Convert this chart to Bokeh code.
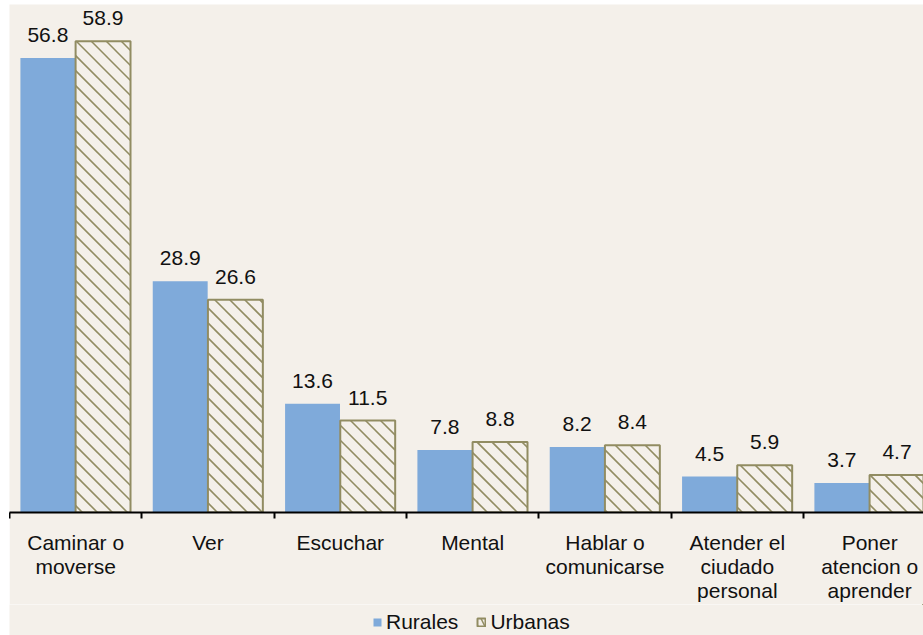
from bokeh.plotting import figure
from bokeh.layouts import column
from bokeh.models import ColumnDataSource, FixedTicker, Legend, LegendItem, Range1d
from bokeh.core.properties import value
from bokeh.embed import file_html
from bokeh.resources import INLINE
import numpy as np

# ---- data ----
categories = ["Caminar o\nmoverse", "Ver", "Escuchar", "Mental", "Hablar o\ncomunicarse",
              "Atender el\nciudado\npersonal", "Poner\natencion o\naprender"]
rurales = [56.8, 28.9, 13.6, 7.8, 8.2, 4.5, 3.7]
urbanas = [58.9, 26.6, 11.5, 8.8, 8.4, 5.9, 4.7]
series_names = ["Rurales", "Urbanas"]

BG = "#F4F0EA"
BLUE = "#7FAADA"
OLIVE = "#918C62"
FONT = "Liberation Sans"

# frame geometry (pixels) and ranges
FW, FH = 914, 508
XMAX, YMAX = 914 / 132.33, 63.5
bw = 0.415

n = len(categories)
idx = np.arange(n)
src = ColumnDataSource(dict(
    xr=idx + 0.29, xu=idx + 0.707,
    r=rurales, u=urbanas,
    rt=[f"{v:.1f}" for v in rurales], ut=[f"{v:.1f}" for v in urbanas],
))

# 45-degree "\" hatch lines clipped to each Urbanas bar, derived from the data
sxp, syp = FW / XMAX, FH / YMAX
SP = 15.0
hx0, hy0, hx1, hy1 = [], [], [], []
for xc, top in zip(idx + 0.707, urbanas):
    ux0, ux1 = (xc - bw / 2) * sxp, (xc + bw / 2) * sxp
    v0, v1 = (YMAX - top) * syp, YMAX * syp
    kmin = int(np.floor((v0 - ux1) / SP))
    kmax = int(np.ceil((v1 - ux0) / SP))
    for k in range(kmin, kmax + 1):
        c = k * SP
        us = max(ux0, v0 - c)
        ue = min(ux1, v1 - c)
        if ue - us > 0.5:
            hx0.append(us / sxp); hy0.append(YMAX - (us + c) / syp)
            hx1.append(ue / sxp); hy1.append(YMAX - (ue + c) / syp)
hsrc = ColumnDataSource(dict(x0=hx0, y0=hy0, x1=hx1, y1=hy1))

p = figure(width=914, height=600, output_backend="svg", toolbar_location=None,
           x_range=Range1d(0, XMAX), y_range=Range1d(0, YMAX),
           y_axis_location=None, min_border_left=0, min_border_right=0,
           min_border_top=0, min_border_bottom=92)
p.margin = (4, 0, 0, 9)
p.background_fill_color = BG
p.border_fill_color = BG
p.outline_line_color = None
p.grid.visible = False

p.vbar(x="xr", top="r", width=bw, bottom=0, source=src, fill_color=BLUE, line_color=None)
p.vbar(x="xu", top="u", width=bw, bottom=0, source=src, fill_color=BG, line_color=None)
p.segment(x0="x0", y0="y0", x1="x1", y1="y1", source=hsrc,
          line_color=OLIVE, line_width=1.6)
p.vbar(x="xu", top="u", width=bw, bottom=0, source=src, fill_color=None,
       line_color=OLIVE, line_width=2)

for xcol, ycol, tcol in (("xr", "r", "rt"), ("xu", "u", "ut")):
    p.text(x=xcol, y=ycol, text=tcol, source=src, text_align="center",
           text_baseline="alphabetic", y_offset=-23, text_font=value(FONT),
           text_font_size="21px", text_color="#111111")

ax = p.xaxis[0]
centers = [float(i) + 0.5 for i in idx]
ax.ticker = FixedTicker(ticks=centers, minor_ticks=[float(i) for i in range(n + 1)])
ax.major_label_overrides = {c: lab for c, lab in zip(centers, categories)}
ax.major_tick_line_color = None
ax.major_tick_out = 0
ax.major_tick_in = 0
ax.minor_tick_out = 6
ax.minor_tick_in = 0
ax.minor_tick_line_color = "#000000"
ax.minor_tick_line_width = 2
ax.axis_line_color = "#000000"
ax.axis_line_width = 2
ax.major_label_standoff = 12
ax.major_label_text_font = FONT
ax.major_label_text_font_size = "21px"
ax.major_label_text_line_height = 1.05
ax.major_label_text_color = "#111111"

# legend strip below the chart (same data; bars lie outside this strip's ranges)
pl = figure(width=914, height=31, output_backend="svg", toolbar_location=None,
            x_range=Range1d(-1000, -86), y_range=Range1d(-100, -69),
            x_axis_location=None, y_axis_location=None,
            min_border_left=0, min_border_right=0, min_border_top=0, min_border_bottom=0)
pl.margin = (0, 0, 0, 9)
pl.background_fill_color = BG
pl.border_fill_color = BG
pl.outline_line_color = None
pl.grid.visible = False
lr = pl.vbar(x="xr", top="r", width=bw, bottom=0, source=src,
             fill_color=BLUE, line_color=None)
lu = pl.vbar(x="xu", top="u", width=bw, bottom=0, source=src,
             fill_color=BG, line_color=OLIVE, line_width=2,
             hatch_pattern="left_diagonal_line", hatch_color=OLIVE,
             hatch_scale=14, hatch_weight=1.5)

legend = Legend(items=[LegendItem(label=series_names[0], renderers=[lr]),
                       LegendItem(label=series_names[1], renderers=[lu])],
                orientation="horizontal", location=(363, 1),
                glyph_width=10, glyph_height=10, label_standoff=4, spacing=18,
                label_text_font=FONT, label_text_font_size="21px",
                label_text_color="#111111", padding=0, margin=0,
                border_line_color=None, background_fill_alpha=0)
pl.add_layout(legend)

layout = column(p, pl, spacing=0)
open("out.html", "w").write(file_html(layout, INLINE))
